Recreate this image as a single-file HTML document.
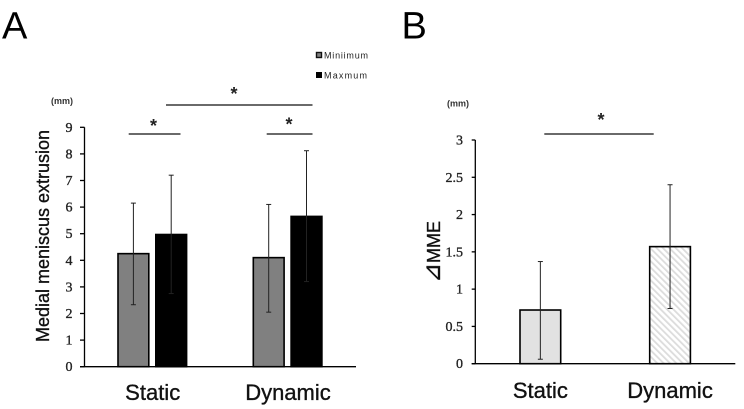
<!DOCTYPE html>
<html>
<head>
<meta charset="utf-8">
<title>Medial meniscus extrusion</title>
<style>
html,body{margin:0;padding:0;background:#fff;}
svg{display:block;filter:blur(0.3px);}
text{font-family:"Liberation Sans",sans-serif;fill:#111;}
.tick{font-family:"Liberation Serif",serif;font-size:14px;fill:#222;stroke:#222;stroke-width:0.35px;text-anchor:end;}
.cat{font-size:22px;text-anchor:middle;stroke:#111;stroke-width:0.35px;}
.title{font-size:18px;text-anchor:middle;stroke:#111;stroke-width:0.35px;}
.unit{font-size:9px;font-weight:bold;fill:#333;}
.legend{font-size:9px;fill:#222;}
.star{font-size:18px;font-weight:bold;text-anchor:middle;fill:#222;}
.panel{font-size:38px;fill:#000;}
</style>
</head>
<body>
<svg id="figure" width="744" height="409" viewBox="0 0 744 409" xmlns="http://www.w3.org/2000/svg">
  <defs>
    <pattern id="hatch" patternUnits="userSpaceOnUse" width="4.5" height="4.5" patternTransform="rotate(-45)">
      <rect width="4.5" height="4.5" fill="#fff"/>
      <rect width="1.8" height="4.5" fill="#dcdcdc"/>
    </pattern>
  </defs>
  <rect width="744" height="409" fill="#fff"/>
  <text class="panel" x="2" y="38.5">A</text>
  <text class="panel" x="401.5" y="38.5">B</text>

  <g id="chartA"></g>
  <g id="chartB"></g>

  <text class="unit" x="51" y="104">(mm)</text>
  <text class="unit" x="447" y="106.5">(mm)</text>
  <text class="title" transform="translate(49,236) rotate(-90)">Medial meniscus extrusion</text>
  <text class="title" transform="translate(440,252) rotate(-90)" style="font-family:'Liberation Sans','DejaVu Sans',sans-serif"><tspan style="font-size:24px">⊿</tspan>MME</text>

  <g>
    <rect x="316.5" y="52.5" width="5" height="5" fill="#808080" stroke="#111" stroke-width="1.4"/>
    <text class="legend" x="324" y="58.5" textLength="44" lengthAdjust="spacing">Miniimum</text>
    <rect x="316" y="72" width="6" height="6" fill="#000"/>
    <text class="legend" x="324" y="78.5" textLength="43" lengthAdjust="spacing">Maxmum</text>
  </g>

  <g stroke="#111" stroke-width="1.3">
    <line x1="166" x2="312.5" y1="105" y2="105"/>
    <line x1="128.7" x2="180.5" y1="134" y2="134"/>
    <line x1="266.7" x2="312.5" y1="134" y2="134"/>
    <line x1="544.3" x2="653.7" y1="134" y2="134"/>
  </g>
  <text class="star" x="234" y="100">*</text>
  <text class="star" x="153.5" y="132">*</text>
  <text class="star" x="289" y="130.7">*</text>
  <text class="star" x="601" y="126">*</text>
</svg>
<script>
var categoriesA = ['Static', 'Dynamic'];
var minimumValues = [4.25, 4.1];
var minimumErrTop = [6.15, 6.1];
var minimumErrBottom = [2.33, 2.05];
var maximumValues = [4.97, 5.65];
var maximumErrTop = [7.2, 8.12];
var maximumErrBottom = [2.75, 3.2];
var ticksA = [0, 1, 2, 3, 4, 5, 6, 7, 8, 9];

var categoriesB = ['Static', 'Dynamic'];
var deltaValues = [0.72, 1.57];
var deltaErrTop = [1.37, 2.4];
var deltaErrBottom = [0.06, 0.74];
var ticksB = [0, 0.5, 1, 1.5, 2, 2.5, 3];

var NS = 'http://www.w3.org/2000/svg';

function mk(parent, tag) {
  var el = document.createElementNS(NS, tag);
  parent.appendChild(el);
  return el;
}

function yA(v) { return 366.7 - v * (366.7 - 127.3) / 9; }
function yB(v) { return 363.7 - v * (363.7 - 140) / 3; }
function xA(groupIndex, seriesIndex) {
  return 118 + groupIndex * 135.3 + seriesIndex * 37.8;
}
function xB(groupIndex) {
  return 520 + groupIndex * 129.7;
}

function drawBar(parent, x, w, yBase, yTop, fill) {
  var r = mk(parent, 'rect');
  r.setAttribute('x', x);
  r.setAttribute('y', yTop);
  r.setAttribute('width', w);
  r.setAttribute('height', yBase - yTop);
  r.setAttribute('fill', fill);
  r.setAttribute('stroke', '#000');
  r.setAttribute('stroke-width', '1.6');
  return r;
}

function drawError(parent, cx, yHi, yLo) {
  var g = mk(parent, 'g');
  g.setAttribute('stroke', '#222');
  g.setAttribute('stroke-width', '1');
  var a = mk(g, 'line');
  a.setAttribute('x1', cx); a.setAttribute('x2', cx);
  a.setAttribute('y1', yHi); a.setAttribute('y2', yLo);
  var b = mk(g, 'line');
  b.setAttribute('x1', cx - 2.5); b.setAttribute('x2', cx + 2.5);
  b.setAttribute('y1', yHi); b.setAttribute('y2', yHi);
  var c = mk(g, 'line');
  c.setAttribute('x1', cx - 2.5); c.setAttribute('x2', cx + 2.5);
  c.setAttribute('y1', yLo); c.setAttribute('y2', yLo);
  return g;
}

function drawAxes(parent, axisX, tickX, endX, scale, ticks, labelX) {
  var g = mk(parent, 'g');
  g.setAttribute('stroke', '#000');
  g.setAttribute('stroke-width', '1.3');
  var top = scale(ticks[ticks.length - 1]);
  var bottom = scale(ticks[0]);
  var yLine = mk(g, 'line');
  
  
  yLine.setAttribute('x1', axisX); yLine.setAttribute('x2', axisX);
  yLine.setAttribute('y1', top); yLine.setAttribute('y2', bottom);
  var xLine = mk(g, 'line');
  
  
  xLine.setAttribute('x1', tickX); xLine.setAttribute('x2', endX);
  xLine.setAttribute('y1', bottom); xLine.setAttribute('y2', bottom);
  ticks.forEach(function (t) {
    var tl = mk(g, 'line');
    
    
    tl.setAttribute('x1', tickX); tl.setAttribute('x2', axisX);
    tl.setAttribute('y1', scale(t)); tl.setAttribute('y2', scale(t));
    var tx = mk(parent, 'text');
    
    
    tx.setAttribute('class', 'tick');
    tx.setAttribute('x', labelX);
    tx.setAttribute('y', scale(t) + 4.5);
    tx.textContent = String(t);
  });
}

var gA = document.getElementById('chartA');
drawAxes(gA, 84.5, 80, 356, yA, ticksA, 72.5);
categoriesA.forEach(function (cat, i) {
  var w = 30.8;
  var minBar = drawBar(gA, xA(i, 0), w, yA(0), yA(minimumValues[i]), '#808080');
  
  
  var maxBar = drawBar(gA, xA(i, 1), w, yA(0), yA(maximumValues[i]), '#000');
  
  
  var minErr = drawError(gA, xA(i, 0) + w / 2, yA(minimumErrTop[i]), yA(minimumErrBottom[i]));
  
  
  var maxErr = drawError(gA, xA(i, 1) + w / 2, yA(maximumErrTop[i]), yA(maximumErrBottom[i]));
  
  
  var label = mk(gA, 'text');
  
  
  label.setAttribute('class', 'cat');
  label.setAttribute('x', xA(i, 0) + 34.7);
  label.setAttribute('y', 400);
  label.textContent = cat;
});

var gB = document.getElementById('chartB');
drawAxes(gB, 475.3, 471.7, 735.3, yB, ticksB, 463);
var fillsB = ['#e2e2e2', 'url(#hatch)'];
categoriesB.forEach(function (cat, i) {
  var w = 40.7;
  var bar = drawBar(gB, xB(i), w, yB(0), yB(deltaValues[i]), fillsB[i]);
  
  
  var err = drawError(gB, xB(i) + w / 2, yB(deltaErrTop[i]), yB(deltaErrBottom[i]));
  
  
  var label = mk(gB, 'text');
  
  
  label.setAttribute('class', 'cat');
  label.setAttribute('x', xB(i) + w / 2);
  label.setAttribute('y', 398);
  label.textContent = cat;
});
</script>
</body>
</html>
